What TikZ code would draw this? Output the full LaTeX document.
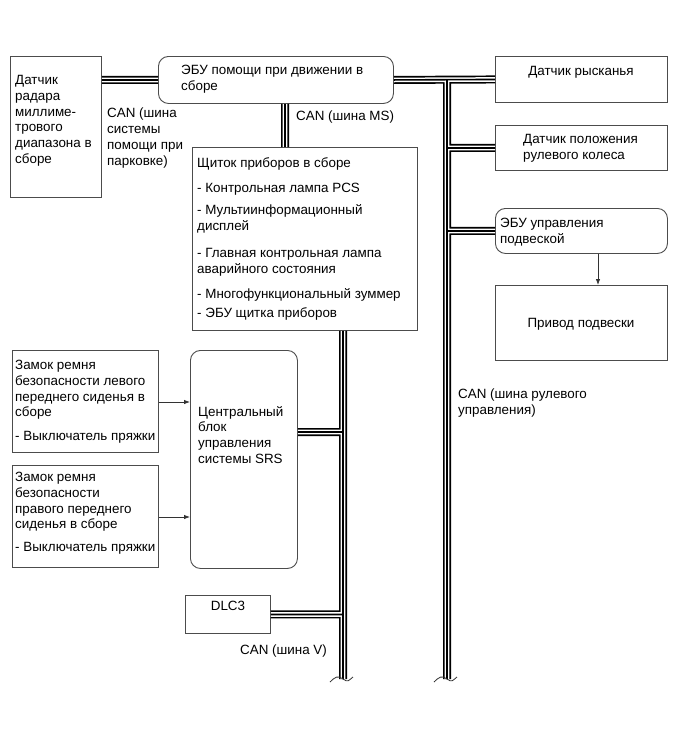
\documentclass[tikz,border=0pt]{standalone}
\usepackage{fontspec}
\setmainfont{Liberation Sans}
\usetikzlibrary{arrows.meta}
\definecolor{boxgray}{gray}{0.3}
\tikzset{
  box/.style={draw=boxgray, line width=0.9pt, inner sep=0pt, anchor=north west},
  rbox/.style={box, rounded corners=10pt},
  txt/.style={inner sep=0pt, anchor=north west, align=left, font=\fontsize{13.4}{15.8}\selectfont},
  ctxt/.style={inner sep=0pt, anchor=north, align=center, font=\fontsize{13.4}{15.8}\selectfont},
  arr/.style={draw=black!80, line width=0.8pt, -{Latex[length=6pt,width=4.5pt]}},
  wave/.style={draw=black!80, line width=0.8pt},
}
\newcommand{\mkbox}[6]{\node[#1, minimum width=#4pt, minimum height=#5pt] (#6) at (#2,#3) {};}
\begin{document}
\begin{tikzpicture}[x=1pt,y=-1pt]
\useasboundingbox[fill=white] (0,0) rectangle (689,756);
% boxes
\mkbox{box}{10}{56}{91}{141}{radar}
\mkbox{rbox}{158}{56}{235}{47}{ebu}
\mkbox{box}{495}{56}{172}{46}{yaw}
\mkbox{box}{495}{125}{172}{45}{steer}
\mkbox{rbox}{495}{208}{172}{45}{suspecu}
\mkbox{box}{495}{285}{172}{75}{suspact}
\mkbox{box}{192}{147}{225}{183}{cluster}
\mkbox{box}{12}{350}{146}{102}{seatl}
\mkbox{box}{12}{465}{146}{102}{seatr}
\mkbox{rbox}{190}{350}{107}{218}{srs}
\mkbox{box}{185}{595}{85}{38}{dlc}
% coordinates of the buses
\coordinate (rtop) at (447,79);
\coordinate (rbot) at (447,679);
\coordinate (msx) at (285,0);
\coordinate (lx) at (343,0);
\coordinate (lbot) at (343,679);
\coordinate (srsj) at (343,432);
\newcommand{\busnet}{
  (radar.east |- ebu.west) -- (ebu.west)
  (ebu.east) -- (yaw.west)
  (rtop) -- (rbot)
  (rtop |- steer.west) -- (steer.west)
  (rtop |- suspecu.west) -- (suspecu.west)
  (msx |- ebu.south) -- (msx |- cluster.north)
  (lx |- cluster.south) -- (lbot)
  (srs.east |- srsj) -- (srsj)
  (dlc.east) -- (dlc.east -| lbot)
}
\draw[line width=8pt, black] \busnet;
\draw[line width=4.6pt, white] \busnet;
\draw[line width=1.6pt, black] \busnet;
% break marks
\foreach \b in {lbot, rbot} {
  \draw[wave] ([shift={(-13,3)}]\b) .. controls +(5,-5) and +(-5,-4) .. ([shift={(0,0)}]\b) .. controls +(5,4) and +(-4,3) .. ([shift={(10,-2)}]\b);
}
% arrows
\draw[arr] (suspecu.south -| 598,0) -- (suspact.north -| 598,0);
\draw[arr] (seatl.east |- 0,402) -- (srs.west |- 0,402);
\draw[arr] (seatr.east |- 0,517) -- (srs.west |- 0,517);
% texts
\node[txt] (t1) at (15,75) {Датчик\\радара\\миллиме-\\трового\\диапазона в\\сборе};
\node[txt] (t2) at (181,65) {ЭБУ помощи при движении в\\сборе};
\node[txt] (t3) at (107,108) {CAN (шина\\системы\\помощи при\\парковке)};
\node[txt] (t4) at (296,111) {CAN (шина MS)};
\node[ctxt] (t5) at (581,66) {Датчик рысканья};
\node[txt] (t6) at (523,134) {Датчик положения\\рулевого колеса};
\node[txt] (t7) at (500,218) {ЭБУ управления\\подвеской};
\node[ctxt] (t8) at (581,318) {Привод подвески};
\node[txt] (t9) at (458,389) {CAN (шина рулевого\\управления)};
\node[txt] (t10) at (197,157) {Щиток приборов в сборе\\[10pt]- Контрольная лампа PCS\\[6pt]- Мультиинформационный\\дисплей\\[11pt]- Главная контрольная лампа\\аварийного состояния\\[10pt]- Многофункциональный зуммер\\[3pt]- ЭБУ щитка приборов};
\node[txt] (t11) at (15,360) {Замок ремня\\безопасности левого\\переднего сиденья в\\сборе\\[8pt]- Выключатель пряжки};
\node[txt] (t12) at (15,472) {Замок ремня\\безопасности\\правого переднего\\сиденья в сборе\\[7pt]- Выключатель пряжки};
\node[txt] (t13) at (198,406) {Центральный\\блок\\управления\\системы SRS};
\node[ctxt] (t14) at (228,601) {DLC3};
\node[txt] (t15) at (240,645) {CAN (шина V)};
\end{tikzpicture}
\end{document}
